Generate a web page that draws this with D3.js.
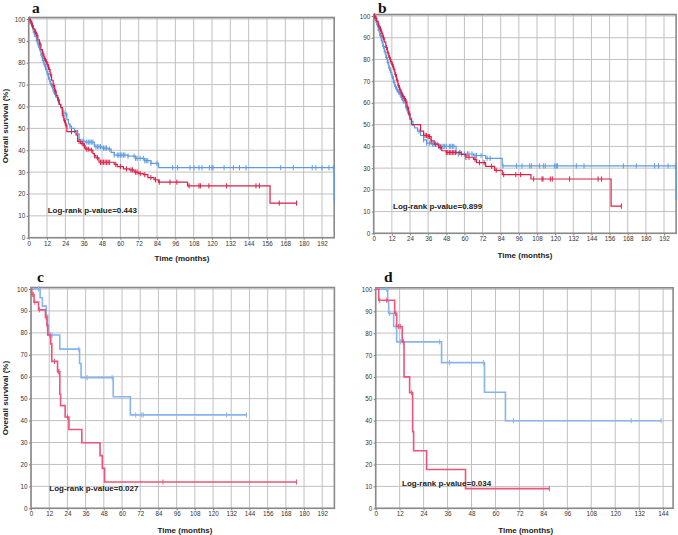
<!DOCTYPE html>
<html><head><meta charset="utf-8">
<script src="https://cdn.jsdelivr.net/npm/d3@7"></script>
<style>body{margin:0;background:#fff}svg{display:block}</style>
</head><body>
<svg id="chart" width="678" height="535"></svg>
<script>
// ---------- DATA ----------
const xTicks200 = [0,12,24,36,48,60,72,84,96,108,120,132,144,156,168,180,192];
const xTicks144 = [0,12,24,36,48,60,72,84,96,108,120,132,144];
const yTicks = [0,10,20,30,40,50,60,70,80,90,100];
const panelLetters = ["a","b","c","d"];
const pValueLabels = ["Log-rank p-value=0.443","Log-rank p-value=0.899","Log-rank p-value=0.027","Log-rank p-value=0.034"];

// Panel a
const aBlueT = [0,1,2,3,4,5,6,7,8,9,10,11,12,13,14,15,16,17,18,19,20,21,22,23,24,25,26,27,28,30,32,33,34,37,43,48,52,54,56,65,70,76,80,85,200];
const aBlueS = [100,98.5,96.5,94,92,90,88,86,83.5,81,79,77,75,72.5,70.5,69,67,65.5,64,62.5,61,59.5,58,57,56.5,54,52,51,50,49,47.5,45,44,43.7,41.6,41,40.5,39,37.8,37.3,36.3,35.2,34,32,16];
const aBlueCens = [0.5,1.5,2.5,3.5,5.5,6.5,7.5,8.5,9.5,10.5,11.5,12.5,13.5,14.5,15.5,16.5,17.5,19.5,22.5,24.5,27,30,35,36,38,39,40,41,42,44,45,46,47,49,50,51,53,56,58,59,60,61,62,63,65,69,70,71,73,75,76,77,78,80,84,94.3,97.5,105.6,108.2,111.5,113.5,118.3,120,120.7,127.9,134,138,142.3,165,173.2,185.6,188,192,196.6,199.4];
const aRedT = [0,1,2,3,4,5,6,7,8,9,10,11,12,13,14,15,16,17,18,19,20,21,22,23,24,25,31,32,34,36,37,40,42,43,44,46,56,58,62,66,69,72,75,78,82,85,104,158];
const aRedS = [100,99,97,95.5,94,92.5,90.5,88.5,86,84,82,80.5,79,77,74.5,72,69.5,67,65,63,61,59.5,56,53.5,51.5,48.5,47,44,43,42,40.5,40,38.5,37.5,36.5,34.5,33.5,32.5,31.5,31,30,29.3,28.8,27.5,26.5,25.4,23.7,15.8];
const aRedCens = [1,2.5,4.5,5.5,7.5,9.5,10.5,11.5,12.5,13.5,14.5,16.5,17.5,19.5,22.5,23.5,24.5,28,33,35,36.5,38,39,41,43,45,47,48,49,50,51,52,53,57,60,64,67,68,70,71,73,76,80,83,85.5,92.5,97,105,111.5,112.4,118,129.6,148.8,151,164,175.4];
const aBlueEnd = 200, aRedEnd = 175.4;

// Panel b
const bBlueT = [0,1,2,3,4,5,6,7,8,9,10,11,12,13,14,15,16,17,18,19,20,21,22,23,24,25,26,27,29,31,33,35,38,43,54.5,66,74,85,200];
const bBlueS = [100,98,96,93.5,91,88.5,86,83.5,81,78.5,76,74,72,69.5,67.5,66,65,64,62.5,61,60,58,56.5,55,53,51.5,49.5,48.5,47,45,43,41.5,41,40,36.5,35.8,34.5,31,15.5];
const bBlueCens = [0.5,1.5,2.5,3.5,4.5,5.5,6.5,7.5,8.5,9.5,10.5,11.5,12.5,13.5,14.5,15.5,16.5,17.5,18.5,19.5,21.5,22.5,23.5,25,30,33,35,37,39,40,42,43,44,45,46,47,48,50,51,52,53,56,58,60,62,63,65,67,68,71,75,77,85.5,94.4,98.1,103.2,104.3,109.6,112.4,113.5,119.7,120.8,121.5,134,139.1,165.1,173.7,185.8,188.4,194.7,199.5];
const bRedT = [0,1,2,3,4,5,6,7,8,9,10,11,12,13,14,15,16,17,18,19,20,21,22,23,24,25,31,33,36,38,40,43,45,48,58,61,66,68,74,80,85,104,157];
const bRedS = [100,99,97.5,95.5,94,92,90,88,85.5,83,81,79,77.5,75.5,73,70.5,68,66,64.5,63,62,60.5,58,55,52.5,50,47,45,44.5,42.5,41,39.5,38,37.2,36.3,35,34,32.5,30.8,29,27,25,12.5];
const bRedCens = [0.5,1.5,3.5,4.5,5.5,6.5,8.5,9.5,10.5,11.5,12.5,13.5,14.5,15.5,16.5,17.5,18.5,19.5,20.5,21.5,22.5,23.5,34,35,36,37,38,41,44,48,49,50,51,52,53,54,57,61,63,67,70,73,78,81,86,94,97.2,105.8,111.3,112,116.8,118.1,129.6,148.4,150.6,163.8];
const bBlueEnd = 200, bRedEnd = 163.8;

// Panel c
const cBlueT = [0,6,7.5,10,11,11.5,19,32,33,54.2,65.5];
const cBlueS = [100,96,92.2,88,83.6,79,72.6,66,59.6,50.9,42.6];
const cBlueCens = [5,10,12.5,14,31.5,37,53.5,69,73,74,129,142];
const cRedT = [0,0.5,2,5,9.5,10.5,11,13,13.7,17.5,19,19.5,22.5,25,33.5,45.5,47,48.5];
const cRedS = [100,97.5,94,90.5,87,83.3,79,75,67,62.3,52,46.8,41.6,35.9,29.9,24,18.2,12];
const cRedCens = [0.8,1.5,2.5,5.5,10,10.8,12.5,15.5,18,18.5,24,87,175];
const cBlueEnd = 142, cRedEnd = 175;

// Panel d
const dBlueT = [0,6,6.5,9,10.5,33,54.5,65];
const dBlueS = [100,94.5,89,83,76,66.5,53,40];
const dBlueCens = [5.5,7,10.2,12.5,14,32,37,54,69,128,143];
const dRedT = [0,1.5,9.5,10.5,13.3,14.2,17,18.5,19,25.5,45];
const dRedS = [100,95,89,83,76,60,52.8,35,26.3,17.7,9];
const dRedCens = [2,5.5,10,11.5,12.3,13.8,18,87];
const dBlueEnd = 143, dRedEnd = 87;

// ---------- LAYOUT / STYLE ----------
const panels = [
  {xMax:200, xTicks:xTicks200, l:28.7, r:334.2, t:19, b:237.7,
   blue:[aBlueT,aBlueS,aBlueCens,aBlueEnd], red:[aRedT,aRedS,aRedCens,aRedEnd],
   letter:[32,13], pv:[47.7,213], xt:[182,261], yt:[8,126], light:false},
  {xMax:200, xTicks:xTicks200, l:373.7, r:676.1, t:16, b:233.3,
   blue:[bBlueT,bBlueS,bBlueCens,bBlueEnd], red:[bRedT,bRedS,bRedCens,bRedEnd],
   letter:[378,12.5], pv:[393,208.5], xt:[525,258], yt:null, light:false},
  {xMax:200, xTicks:xTicks200, l:31, r:334.4, t:289, b:508.3,
   blue:[cBlueT,cBlueS,cBlueCens,cBlueEnd], red:[cRedT,cRedS,cRedCens,cRedEnd],
   letter:[37,282], pv:[49.3,490.5], xt:[185,533], yt:[8,398], light:true},
  {xMax:149, xTicks:xTicks144, l:375.7, r:673.1, t:289.3, b:508.3,
   blue:[dBlueT,dBlueS,dBlueCens,dBlueEnd], red:[dRedT,dRedS,dRedCens,dRedEnd],
   letter:[384,282], pv:[402,486], xt:[525.7,533], yt:null, light:true}
];

const svg = d3.select("#chart");
const sans = "'Liberation Sans', Arial, sans-serif";

panels.forEach((p, i) => {
  const x = d3.scaleLinear().domain([0, p.xMax]).range([p.l, p.r]);
  const y = d3.scaleLinear().domain([0, 100]).range([p.b, p.t]);
  const g = svg.append("g");

  // grid
  g.append("g").selectAll("line").data(p.xTicks).join("line")
    .attr("x1", d => x(d)).attr("x2", d => x(d))
    .attr("y1", p.t - 1.5).attr("y2", p.b)
    .attr("stroke", "#c0c0c0").attr("stroke-width", 1);
  g.append("g").selectAll("line").data(yTicks).join("line")
    .attr("x1", p.l).attr("x2", p.r)
    .attr("y1", d => y(d)).attr("y2", d => y(d))
    .attr("stroke", "#c0c0c0").attr("stroke-width", 1);

  // axes
  const xa = g.append("g").attr("transform", `translate(0,${p.b})`)
    .call(d3.axisBottom(x).tickValues(p.xTicks).tickSize(2).tickPadding(1.5));
  const ya = g.append("g").attr("transform", `translate(${p.l},0)`)
    .call(d3.axisLeft(y).tickValues(yTicks).tickSize(2).tickPadding(1.5));
  [xa, ya].forEach(a => {
    a.select(".domain").remove();
    a.selectAll("line").attr("stroke", "#777");
    a.selectAll("text").attr("font-family", sans).attr("font-size", 6.3).attr("fill", "#333");
  });

  // frame
  g.append("rect").attr("x", p.l).attr("y", p.t - 1.5)
    .attr("width", p.r - p.l).attr("height", p.b - p.t + 1.5)
    .attr("fill", "none").attr("stroke", "#8a8a8a").attr("stroke-width", 1.6);

  const colors = p.light ? {blue:"#86b5ee", red:"#ec5579"} : {blue:"#5c9be3", red:"#dc1f47"};
  const sw = p.light ? 1.6 : 1.2;

  const line = d3.line().x(d => x(d[0])).y(d => y(d[1])).curve(d3.curveStepAfter);
  const drawSeries = (ser, col) => {
    const [T, S, C, end] = ser;
    const pts = T.map((t, k) => [t, S[k]]);
    if (end > T[T.length - 1]) pts.push([end, S[S.length - 1]]);
    g.append("path").attr("d", line(pts)).attr("fill", "none")
      .attr("stroke", col).attr("stroke-width", sw);
    const valAt = t => S[Math.max(0, d3.bisectRight(T, t) - 1)];
    g.append("g").selectAll("line").data(C).join("line")
      .attr("x1", d => x(d)).attr("x2", d => x(d))
      .attr("y1", d => y(valAt(d)) - 2.6).attr("y2", d => y(valAt(d)) + 2.6)
      .attr("stroke", col).attr("stroke-width", 1);
  };
  drawSeries(p.blue, colors.blue);
  drawSeries(p.red, colors.red);

  // p-value
  g.append("text").attr("x", p.pv[0]).attr("y", p.pv[1])
    .attr("font-family", sans).attr("font-weight", "bold").attr("font-size", 8)
    .attr("fill", "#222").text(pValueLabels[i]);

  // letter
  g.append("text").attr("x", p.letter[0]).attr("y", p.letter[1])
    .attr("font-family", "'Liberation Serif', 'Times New Roman', serif")
    .attr("font-weight", "bold").attr("font-size", 15.5).attr("fill", "#111")
    .text(panelLetters[i]);

  // x title
  g.append("text").attr("x", p.xt[0]).attr("y", p.xt[1]).attr("text-anchor", "middle")
    .attr("font-family", sans).attr("font-weight", "bold").attr("font-size", 8)
    .attr("fill", "#222").text("Time (months)");

  // y title
  if (p.yt) {
    g.append("text").attr("transform", `translate(${p.yt[0]},${p.yt[1]}) rotate(-90)`)
      .attr("text-anchor", "middle")
      .attr("font-family", sans).attr("font-weight", "bold").attr("font-size", 8)
      .attr("fill", "#222").text("Overall survival (%)");
  }
});
</script>
</body></html>
